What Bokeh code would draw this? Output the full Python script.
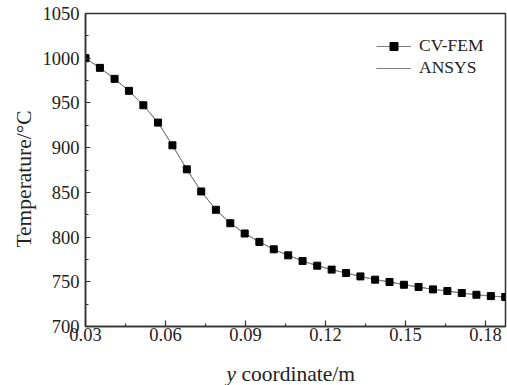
import math
from bokeh.plotting import figure
from bokeh.layouts import column, row
from bokeh.models import Range1d, FixedTicker, Legend, LegendItem, Label, NumeralTickFormatter
from bokeh.embed import file_html
from bokeh.resources import INLINE

# Data
y_coord = [0.0300, 0.0354, 0.0409, 0.0463, 0.0517, 0.0572, 0.0626, 0.0680, 0.0734, 0.0789,
           0.0843, 0.0897, 0.0952, 0.1006, 0.1060, 0.1114, 0.1169, 0.1223, 0.1277, 0.1331,
           0.1386, 0.1440, 0.1494, 0.1549, 0.1603, 0.1657, 0.1711, 0.1766, 0.1820, 0.1874]
cvfem_T = [1000.0, 989.2, 976.9, 963.5, 947.4, 928.0, 902.6, 875.7, 851.0, 830.5,
           815.5, 804.0, 794.6, 786.3, 779.6, 773.3, 768.0, 763.6, 759.8, 756.0,
           752.4, 749.8, 746.7, 744.2, 741.5, 739.7, 737.4, 735.5, 734.0, 733.0]
ansys_T = [1000.0, 989.2, 976.9, 963.5, 947.4, 928.0, 902.6, 875.7, 851.0, 830.5,
           815.5, 804.0, 794.6, 786.3, 779.6, 773.3, 768.0, 763.6, 759.8, 756.0,
           752.4, 749.8, 746.7, 744.2, 741.5, 739.7, 737.4, 735.5, 734.0, 733.0]

x_ticks = [0.03, 0.06, 0.09, 0.12, 0.15, 0.18]
x_minor = [0.045, 0.075, 0.105, 0.135, 0.165]
y_ticks = [700, 750, 800, 850, 900, 950, 1000, 1050]
y_minor = [725, 775, 825, 875, 925, 975, 1025]

FONT = "Liberation Serif"
AX = "#333333"
TXT = "#222222"
STRIP = 38

p = figure(width=507 - STRIP, height=350, x_range=Range1d(0.03, 0.1875), y_range=Range1d(700, 1050),
           output_backend="svg", toolbar_location=None, title=None,
           min_border_left=85 - STRIP, min_border_right=2, min_border_top=13, min_border_bottom=24)
p.xgrid.visible = False
p.ygrid.visible = False
p.background_fill_color = "white"
p.border_fill_color = "white"
p.outline_line_color = AX
p.outline_line_width = 1.5

ansys = p.line(y_coord, ansys_T, line_color="#808080", line_width=1)
cv_line = p.line(y_coord, cvfem_T, line_color="#808080", line_width=1)
cv_pts = p.scatter(y_coord, cvfem_T, marker="square", size=7, fill_color="black", line_color="black")

xa = p.xaxis[0]
xa.ticker = FixedTicker(ticks=x_ticks, minor_ticks=x_minor)
xa.formatter = NumeralTickFormatter(format="0.00")
ya = p.yaxis[0]
ya.ticker = FixedTicker(ticks=y_ticks, minor_ticks=y_minor)

for ax in (xa, ya):
    ax.axis_line_color = AX
    ax.axis_line_width = 1.5
    ax.major_tick_line_color = AX
    ax.minor_tick_line_color = AX
    ax.major_tick_line_width = 1.2
    ax.minor_tick_line_width = 1.2
    ax.major_tick_out = 0
    ax.minor_tick_out = 0
    ax.minor_tick_in = 3
    ax.major_label_text_font = FONT
    ax.major_label_text_font_size = "18.5px"
    ax.major_label_text_color = TXT

xa.major_tick_in = 6
ya.major_tick_in = 5
xa.major_label_standoff = 1
ya.major_label_standoff = 6

legend = Legend(items=[LegendItem(label="CV-FEM", renderers=[cv_line, cv_pts]),
                       LegendItem(label="ANSYS", renderers=[ansys])],
                location=(291, 248), padding=0, spacing=1, margin=0,
                glyph_width=35, glyph_height=20, label_height=20, label_standoff=8,
                label_text_font=FONT, label_text_font_size="17.5px", label_text_color=TXT,
                border_line_alpha=0, background_fill_alpha=0)
p.add_layout(legend)

# Strip left of the chart holding the y-axis title
s = figure(width=STRIP, height=385, x_range=Range1d(0, STRIP), y_range=p.y_range,
           output_backend="svg", toolbar_location=None, x_axis_type=None, y_axis_type=None,
           title=None,
           min_border_left=0, min_border_right=0, min_border_top=13, min_border_bottom=59)
s.xgrid.visible = False
s.ygrid.visible = False
s.outline_line_color = None
s.border_fill_color = "white"
s.background_fill_color = "white"
s.add_layout(Label(x=23, y=865, text="Temperature/°C", angle=math.pi / 2, text_font=FONT,
                   text_font_size="21.5px", text_color=TXT, text_align="center",
                   text_baseline="middle"))

# Strip below the chart holding the x-axis title (mixed italic / upright text)
t = figure(width=507 - STRIP, height=35, x_range=p.x_range, y_range=Range1d(0, 35),
           output_backend="svg", toolbar_location=None, x_axis_type=None, y_axis_type=None,
           title=None,
           min_border_left=85 - STRIP, min_border_right=2, min_border_top=0, min_border_bottom=0)
t.xgrid.visible = False
t.ygrid.visible = False
t.outline_line_color = None
t.border_fill_color = "white"
t.background_fill_color = "white"
t.add_layout(Label(x=0.0829, y=12, text="y", text_font=FONT, text_font_style="italic",
                   text_font_size="21.5px", text_color=TXT, text_baseline="alphabetic"))
t.add_layout(Label(x=0.0829, y=12, x_offset=15, text="coordinate/m", text_font=FONT,
                   text_font_size="21.5px", text_color=TXT, text_baseline="alphabetic"))

layout = row(s, column(p, t, spacing=0), spacing=0)
open("out.html", "w").write(file_html(layout, INLINE))
